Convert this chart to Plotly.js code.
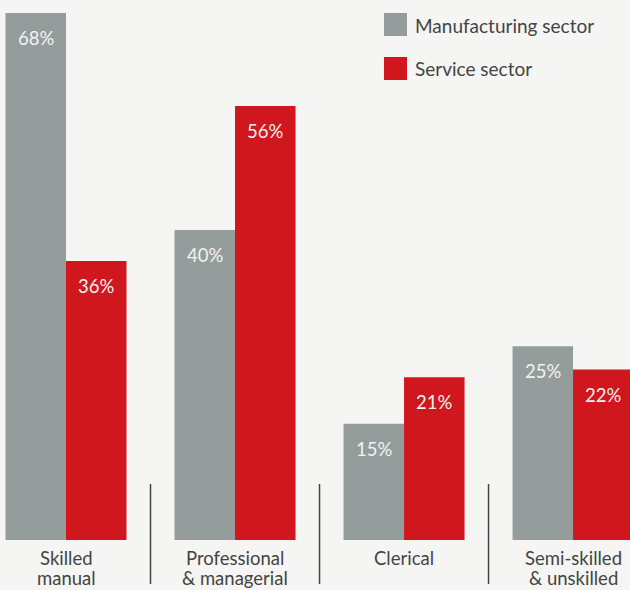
<!DOCTYPE html>
<html>
<head>
<meta charset="utf-8">
<script src="https://cdn.plot.ly/plotly-3.0.1.min.js"></script>
<style>html,body{margin:0;padding:0;background:#f5f5f3;}</style>
</head>
<body>
<div id="chart" style="width:630px;height:590px;"></div>
<script>
var categories = ["Skilled<br>manual", "Professional<br>& managerial", "Clerical", "Semi-skilled<br>& unskilled"];
var seriesNames = ["Manufacturing sector", "Service sector"];
var manufacturing = [68, 40, 15, 25];
var service = [36, 56, 21, 22];
var colors = ["#949d9b", "#d0171d"];

var FONT = "Lato, 'Open Sans', sans-serif";
var allSeries = [manufacturing, service];

var traces = allSeries.map(function (vals, i) {
  return {
    type: "bar",
    name: seriesNames[i],
    x: categories,
    y: vals,
    marker: {color: colors[i], line: {width: 0}},
    hoverinfo: "none",
    showlegend: false
  };
});

var annotations = [];
var offsets = [-0.179, 0.179];
allSeries.forEach(function (vals, i) {
  vals.forEach(function (v, j) {
    annotations.push({
      x: j + offsets[i], y: v, xref: "x", yref: "y",
      text: v + "%", showarrow: false,
      yanchor: "middle", yshift: -25,
      font: {family: FONT, size: 18.5, color: "#f2f2f2"}
    });
  });
});

// category labels, one annotation per line for tight line spacing
categories.forEach(function (c, j) {
  c.split("<br>").forEach(function (line, k) {
    annotations.push({
      x: categories[j], y: 0, xref: "x", yref: "paper",
      text: line, showarrow: false, borderpad: 0,
      yanchor: "middle", yshift: -18 - 20 * k,
      font: {family: FONT, size: 18.5, color: "#444444"}
    });
  });
});

var shapes = [];
// separators
[0.5, 1.5, 2.5].forEach(function (xv) {
  shapes.push({type: "line", xref: "x", yref: "paper", x0: xv, x1: xv,
    y0: -0.0815, y1: 0.1037, line: {color: "#444444", width: 1.5}});
});
// legend
var legY = [[0.976, 0.9333, 0.9537], [0.8944, 0.8519, 0.874]];
seriesNames.forEach(function (n, i) {
  shapes.push({type: "rect", xref: "paper", yref: "paper",
    x0: 384 / 630, x1: 407 / 630, y0: legY[i][1], y1: legY[i][0],
    fillcolor: colors[i], line: {width: 0}});
  annotations.push({xref: "paper", yref: "paper", x: 413 / 630, y: legY[i][2],
    xanchor: "left", yanchor: "middle", text: n, showarrow: false,
    font: {family: FONT, size: 19, color: "#444444"}});
});

var layout = {
  width: 630, height: 590,
  margin: {l: 0, r: 0, t: 0, b: 50, pad: 0},
  paper_bgcolor: "#f5f5f3", plot_bgcolor: "#f5f5f3",
  barmode: "group", bargap: 0.284, bargroupgap: 0,
  showlegend: false,
  font: {family: FONT, color: "#444444"},
  xaxis: {
    type: "category",
    range: [-0.3905, 3.337],
    showgrid: false, zeroline: false, showline: false, ticks: "",
    showticklabels: false,
    fixedrange: true
  },
  yaxis: {
    range: [0, 69.68],
    showgrid: false, zeroline: false, showline: false, showticklabels: false, ticks: "",
    fixedrange: true
  },
  annotations: annotations,
  shapes: shapes
};

Plotly.newPlot("chart", traces, layout, {displayModeBar: false, staticPlot: true});
</script>
</body>
</html>
